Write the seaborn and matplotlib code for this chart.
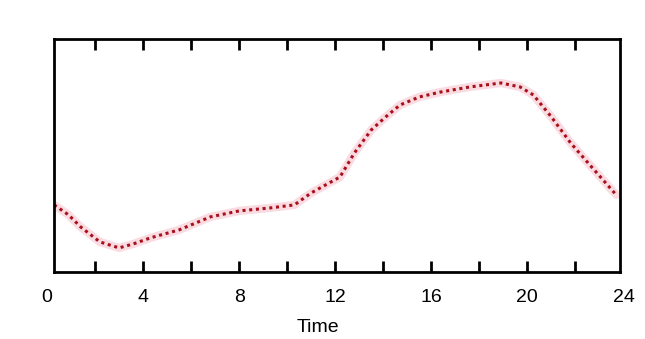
import matplotlib
matplotlib.use("Agg")
import matplotlib.pyplot as plt
import seaborn as sns
import pandas as pd

# values (y axis has no scale, relative units)
hours = [0.3, 0.9, 1.4, 2.2, 3.0, 3.6, 4.3, 5.5, 6.8, 8.0, 9.3, 10.3, 11.0,
         11.6, 12.2, 12.8, 13.5, 14.1, 14.7, 15.5, 16.4, 17.6, 18.9, 19.7,
         20.25, 21.0, 21.8, 22.6, 23.7]
level = [67, 57, 45, 30, 24, 28, 34, 42, 55, 61, 64, 67, 79,
         87, 95, 119, 142, 155, 167, 175, 180, 185, 189, 185,
         177, 155, 129, 107, 77]
label_hours = [0, 4, 8, 12, 16, 20, 24]
tick_hours = [2, 4, 6, 8, 10, 12, 14, 16, 18, 20, 22]

df = pd.DataFrame({"Time": hours, "Level": level})

sns.set_style("white")
plt.rcParams['font.family'] = ['Liberation Sans', 'DejaVu Sans']

fig = plt.figure(figsize=(6.45, 3.39), dpi=100)
ax = fig.add_axes([0.084, 0.198, 0.877, 0.687])

# pink halo then dotted dark red line
sns.lineplot(data=df, x="Time", y="Level", ax=ax, color="#f7c4ce",
             linewidth=6, alpha=0.6)
sns.lineplot(data=df, x="Time", y="Level", ax=ax, color="#a8101c",
             linewidth=2.2, linestyle=(0, (1, 1.2)))

ax.set_xlim(0.3, 23.85)
ax.set_ylim(0, 233)
ax.set_xticks(tick_hours)
ax.set_xticklabels([])
ax.set_yticks([])
ax.tick_params(axis="x", direction="in", length=8, width=2, top=True,
               bottom=True, color="black")
for s in ax.spines.values():
    s.set_color("black")
    s.set_linewidth(2)

for h in label_hours:
    ax.text(h, -0.11, str(h), transform=ax.get_xaxis_transform(),
            ha="center", va="center", fontsize=14, color="black",
            clip_on=False)

ax.set_xlabel("")
ax.set_ylabel("")
fig.text(318 / 645, 1 - 328 / 339, "Time", ha="center", va="center",
         fontsize=14, color="black")

fig.savefig("out.png", dpi=100)
